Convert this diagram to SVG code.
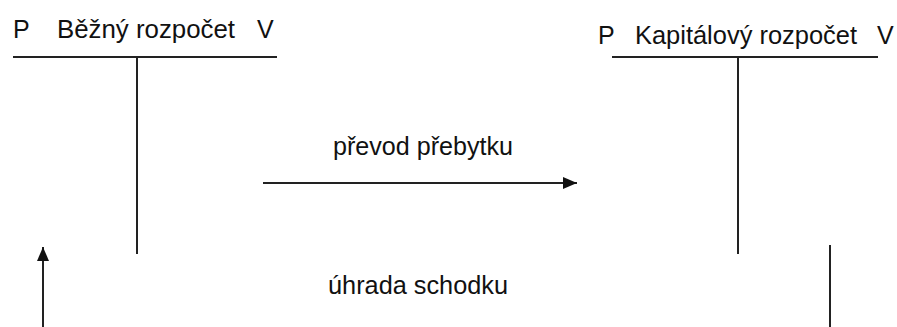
<svg xmlns="http://www.w3.org/2000/svg" width="897" height="327" viewBox="0 0 897 327">
<defs>
<style>
text{font-family:"Liberation Sans",Arial,sans-serif;font-size:25px;fill:#111}
.ln{stroke:#222;stroke-width:2;fill:none}
</style>
<marker id="ah" viewBox="0 0 14 12" refX="14" refY="6" markerWidth="14" markerHeight="12" markerUnits="userSpaceOnUse" orient="auto">
<path d="M0,0 L14,6 L0,12 Z" fill="#111"/>
</marker>
</defs>
<rect width="897" height="327" fill="#fff"/>
<g id="bezny-rozpocet">
<text x="13" y="38">P</text>
<text x="57" y="38" textLength="178" lengthAdjust="spacingAndGlyphs">Běžný rozpočet</text>
<text x="257" y="38">V</text>
<line class="ln" x1="13" y1="57" x2="277" y2="57"/>
<line class="ln" x1="137" y1="57" x2="137" y2="254"/>
</g>
<g id="kapitalovy-rozpocet">
<text x="598" y="44">P</text>
<text x="635" y="44" textLength="222" lengthAdjust="spacingAndGlyphs">Kapitálový rozpočet</text>
<text x="877" y="44">V</text>
<line class="ln" x1="612" y1="57" x2="878" y2="57"/>
<line class="ln" x1="738" y1="57" x2="738" y2="254"/>
</g>
<g id="connectors">
<line class="ln" x1="263" y1="183" x2="577" y2="183" marker-end="url(#ah)"/>
<text x="333" y="155" textLength="180" lengthAdjust="spacingAndGlyphs">převod přebytku</text>
<line class="ln" x1="830" y1="245" x2="830" y2="327"/>
<line class="ln" x1="43" y1="327" x2="43" y2="247" marker-end="url(#ah)"/>
<text x="328" y="294" textLength="180" lengthAdjust="spacingAndGlyphs">úhrada schodku</text>
</g>
</svg>
